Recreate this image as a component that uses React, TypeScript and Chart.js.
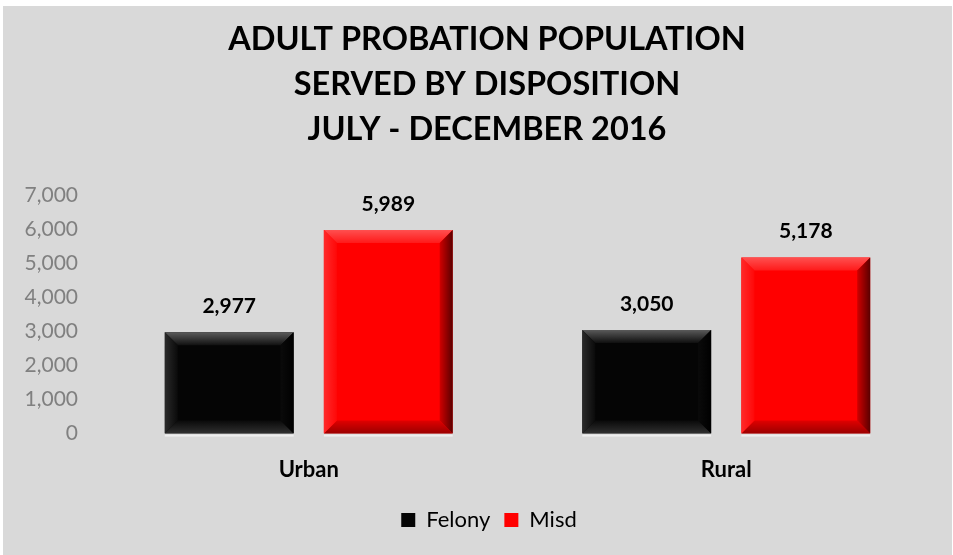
import React, { useEffect, useRef } from "react";
import { Chart, registerables } from "chart.js";

Chart.register(...registerables);

const categories = ["Urban", "Rural"];
const seriesNames = ["Felony", "Misd"];
const felonyValues = [2977, 3050];
const misdValues = [5989, 5178];
const titleLines = ["ADULT PROBATION POPULATION", "SERVED BY DISPOSITION", "JULY - DECEMBER 2016"];
const yMax = 7000;
const yStep = 1000;

const FONT = "Lato, 'Open Sans', sans-serif";

type Bevel = { base: string; top: [string, string]; bottom: [string, string]; left: [string, string]; right: [string, string] };

const bevels: Bevel[] = [
  {
    base: "#050505",
    top: ["#5a5a5a", "#101010"],
    bottom: ["#0a0a0a", "#303030"],
    left: ["#2a2a2a", "#0a0a0a"],
    right: ["#0a0a0a", "#000000"],
  },
  {
    base: "#ff0000",
    top: ["#ff5050", "#ff1a1a"],
    bottom: ["#e00000", "#9a0000"],
    left: ["#ff2a2a", "#ff0808"],
    right: ["#d00000", "#5a0000"],
  },
];

function poly(ctx: CanvasRenderingContext2D, pts: number[][], fill: any) {
  ctx.beginPath();
  ctx.moveTo(pts[0][0], pts[0][1]);
  for (let i = 1; i < pts.length; i++) ctx.lineTo(pts[i][0], pts[i][1]);
  ctx.closePath();
  ctx.fillStyle = fill;
  ctx.fill();
}

const bevelPlugin = {
  id: "bevelBars",
  afterDatasetsDraw(chart: any) {
    const ctx: CanvasRenderingContext2D = chart.ctx;
    chart.data.datasets.forEach((_ds: any, di: number) => {
      const meta = chart.getDatasetMeta(di);
      const bv = bevels[di];
      meta.data.forEach((bar: any) => {
        const p = bar.getProps(["x", "y", "base", "width"], true);
        const l = p.x - p.width / 2;
        const r = p.x + p.width / 2;
        const t = Math.min(p.y, p.base);
        const b = Math.max(p.y, p.base);
        const s = Math.min(13, (r - l) / 4, (b - t) / 4);
        ctx.save();
        ctx.fillStyle = "rgba(255,255,255,0.55)";
        ctx.fillRect(l, b + 1, r - l, 2);
        let g = ctx.createLinearGradient(0, t, 0, t + s);
        g.addColorStop(0, bv.top[0]);
        g.addColorStop(1, bv.top[1]);
        poly(ctx, [[l, t], [r, t], [r - s, t + s], [l + s, t + s]], g);
        g = ctx.createLinearGradient(0, b - s, 0, b);
        g.addColorStop(0, bv.bottom[0]);
        g.addColorStop(1, bv.bottom[1]);
        poly(ctx, [[l + s, b - s], [r - s, b - s], [r, b], [l, b]], g);
        g = ctx.createLinearGradient(l, 0, l + s, 0);
        g.addColorStop(0, bv.left[0]);
        g.addColorStop(1, bv.left[1]);
        poly(ctx, [[l, t], [l + s, t + s], [l + s, b - s], [l, b]], g);
        g = ctx.createLinearGradient(r - s, 0, r, 0);
        g.addColorStop(0, bv.right[0]);
        g.addColorStop(1, bv.right[1]);
        poly(ctx, [[r - s, t + s], [r, t], [r, b], [r - s, b - s]], g);
        ctx.restore();
      });
    });
  },
};

const valueLabelPlugin = {
  id: "valueLabels",
  afterDatasetsDraw(chart: any) {
    const ctx: CanvasRenderingContext2D = chart.ctx;
    ctx.save();
    ctx.font = `bold 21px ${FONT}`;
    ctx.fillStyle = "#000000";
    ctx.textAlign = "center";
    ctx.textBaseline = "middle";
    chart.data.datasets.forEach((ds: any, di: number) => {
      const meta = chart.getDatasetMeta(di);
      meta.data.forEach((bar: any, i: number) => {
        const v = ds.data[i] as number;
        ctx.fillText(v.toLocaleString("en-US"), bar.x, bar.y - 26);
      });
    });
    ctx.restore();
  },
};

// Title and legend in the reference are centred on the whole frame, not the padded box
const centreShiftPlugin = {
  id: "centreShift",
  afterLayout(chart: any) {
    const t = chart.titleBlock;
    if (t) {
      t.left += 8;
      t.right += 8;
    }
    const lg = chart.legend;
    if (lg) {
      lg.left += 10;
      lg.right += 10;
    }
  },
};

export default function App() {
  const ref = useRef<HTMLCanvasElement | null>(null);

  useEffect(() => {
    if (!ref.current) return;
    const chart = new Chart(ref.current, {
      type: "bar",
      data: {
        labels: categories,
        datasets: [
          {
            label: seriesNames[0],
            data: felonyValues,
            backgroundColor: bevels[0].base,
            borderWidth: 0,
            categoryPercentage: 0.762,
            barPercentage: 0.81,
          },
          {
            label: seriesNames[1],
            data: misdValues,
            backgroundColor: bevels[1].base,
            borderWidth: 0,
            categoryPercentage: 0.762,
            barPercentage: 0.81,
          },
        ],
      },
      options: {
        responsive: false,
        animation: false,
        devicePixelRatio: 1,
        layout: { padding: { left: 20, right: 17, top: 0, bottom: 14 } },
        scales: {
          x: {
            grid: { display: false, drawTicks: false },
            border: { display: false },
            ticks: {
              color: "#000000",
              font: { family: FONT, size: 22, weight: "bold" },
              padding: 23,
            },
            afterFit: (scale: any) => {
              scale.height = scale.height - 11;
            },
          },
          y: {
            min: 0,
            max: yMax,
            grid: { display: false, drawTicks: false },
            border: { display: false },
            ticks: {
              stepSize: yStep,
              color: "#808080",
              font: { family: FONT, size: 21 },
              padding: 22,
              callback: (v: any) => Number(v).toLocaleString("en-US"),
            },
            afterFit: (scale: any) => {
              scale.width = 77;
            },
          },
        },
        plugins: {
          title: {
            display: true,
            text: titleLines,
            color: "#000000",
            font: { family: FONT, size: 32.5, weight: "bold", lineHeight: 1.38 },
            padding: { top: 11, bottom: 44 },
          },
          legend: {
            position: "bottom",
            labels: {
              color: "#000000",
              font: { family: FONT, size: 22 },
              boxWidth: 14,
              boxHeight: 14,
              padding: 14,
            },
          },
          tooltip: { enabled: false },
        },
      },
      plugins: [bevelPlugin, valueLabelPlugin, centreShiftPlugin],
    });
    return () => chart.destroy();
  }, []);

  return (
    <div
      style={{
        position: "absolute",
        left: 3,
        top: 6,
        width: 949,
        height: 549,
        background: "#d9d9d9",
      }}
    >
      <canvas ref={ref} width={949} height={549} />
    </div>
  );
}
